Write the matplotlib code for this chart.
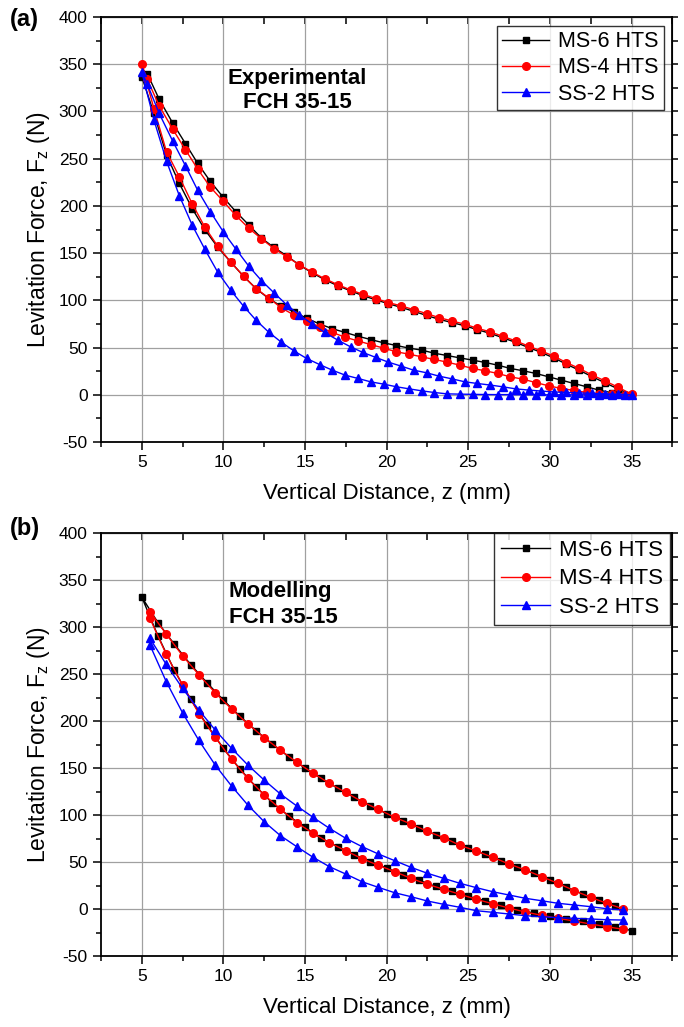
import matplotlib.pyplot as plt
from matplotlib.ticker import MultipleLocator

plt.rcParams["font.family"] = ["Liberation Sans", "DejaVu Sans"]
plt.rcParams["axes.unicode_minus"] = False

# ---- (a) experimental, approach branch (35 -> 5 mm) ----
z_exp_down = [35.0, 34.2, 33.4, 32.6, 31.8, 31.0, 30.25, 29.45, 28.7, 27.9,
              27.1, 26.35, 25.55, 24.8, 24.0, 23.2, 22.45, 21.65, 20.9, 20.1,
              19.35, 18.55, 17.8, 17.0, 16.2, 15.45, 14.65, 13.9, 13.1, 12.33,
              11.55, 10.76, 10.0, 9.2, 8.43, 7.68, 6.89, 6.07, 5.34, 5.0]
# return branch (5 -> 35 mm)
z_exp_up = [5.75, 6.52, 7.3, 8.1, 8.87, 9.65, 10.45, 11.24, 12.0, 12.78,
            13.55, 14.35, 15.1, 15.9, 16.67, 17.46, 18.25, 19.03, 19.82, 20.6,
            21.38, 22.15, 22.93, 23.7, 24.48, 25.27, 26.04, 26.8, 27.58, 28.37,
            29.14, 29.93, 30.7, 31.47, 32.25, 33.0, 33.8, 34.6]

ms6_exp_down = [0, 6, 12.5, 19, 26, 32.5, 39, 45, 50, 55.5,
                60.5, 65, 69, 73, 76.5, 80, 84, 88.5, 92.5, 96.5,
                100.5, 105, 110, 115.5, 122, 129, 137.5, 147, 156, 166,
                180, 194, 209, 226, 245, 266, 288, 313, 340, 337]
ms6_exp_up = [298, 254, 224, 197, 174.8, 156.4, 140.6, 125.5, 112.5, 101.9,
              93.8, 87.8, 81, 75, 70, 66, 62, 58.5, 55, 52.2,
              49.4, 47.3, 44, 41.6, 39.1, 36.7, 34.2, 31.4, 27.9, 25.4,
              22.6, 19, 15.5, 12, 8.5, 5, 2.1, 0]

ms4_exp_down = [0.7, 7.8, 14.5, 20.8, 27.9, 34.2, 40.9, 46.5, 51.5, 57.1,
                62, 66.6, 70.5, 74.7, 78.2, 81.8, 86, 90.2, 94.1, 97.7,
                101.9, 106.4, 111, 116.7, 123, 129.7, 137.8, 146, 154.8, 165.3,
                176.5, 190, 204.8, 220, 239, 259.4, 281.6, 306, 334, 350]
ms4_exp_up = [303, 257.4, 231, 202, 177.5, 157.5, 140.6, 125.5, 112.5, 102.6,
              92, 84.3, 78, 72, 66, 61, 57, 53.2, 49.4, 45.5,
              43, 40.2, 37.4, 34.6, 31.4, 27.9, 25.4, 22.6, 19, 16.5,
              12.9, 9.5, 6.7, 4.6, 2.5, 0.7, 0.5, 0]

ss2_exp_down = [0, 0.5, 1, 1.5, 2, 2.5, 3, 4, 5, 6.3,
                8.5, 10.3, 12, 13.7, 16.9, 19.8, 23.3, 26.1, 30.3, 34.6,
                39.5, 44.8, 50.7, 58, 66, 75, 84.5, 95, 108, 121,
                136.4, 154.5, 172.5, 194, 216.5, 242.5, 269, 298, 329, 342]
ss2_exp_up = [291, 247.4, 211, 179.4, 154, 130, 110.7, 93.8, 79, 66.3,
              55.7, 46.2, 38.5, 32, 26.1, 20.8, 17.3, 13.7, 11.3, 8.5,
              6.3, 4.2, 2.4, 1, 0.7, 0.5, 0.3, 0.2, 0.2, 0.1,
              0, 0, 0, 0, 0, 0, 0, 0]

# ---- (b) modelling ----
z_int_down = [34, 33, 32, 31, 30, 29, 28, 27, 26, 25, 24, 23, 22, 21, 20,
              19, 18, 17, 16, 15, 14, 13, 12, 11, 10, 9, 8, 7, 6, 5]
z_int_up = [6, 7, 8, 9, 10, 11, 12, 13, 14, 15, 16, 17, 18, 19, 20,
            21, 22, 23, 24, 25, 26, 27, 28, 29, 30, 31, 32, 33, 34, 35]
z_half_down = [34.5, 33.5, 32.5, 31.5, 30.5, 29.5, 28.5, 27.5, 26.5, 25.5,
               24.5, 23.5, 22.5, 21.5, 20.5, 19.5, 18.5, 17.5, 16.5, 15.5,
               14.5, 13.5, 12.5, 11.5, 10.5, 9.5, 8.5, 7.5, 6.5, 5.5]
z_half_up = [5.5, 6.5, 7.5, 8.5, 9.5, 10.5, 11.5, 12.5, 13.5, 14.5,
             15.5, 16.5, 17.5, 18.5, 19.5, 20.5, 21.5, 22.5, 23.5, 24.5,
             25.5, 26.5, 27.5, 28.5, 29.5, 30.5, 31.5, 32.5, 33.5, 34.5]

ms6_mod_down = [3, 9.5, 16, 23.5, 31, 38, 44.5, 51.5, 58.5, 64.5,
                72, 79, 86.5, 94, 101.5, 110, 119, 128.5, 139, 150,
                162, 175.5, 189.7, 205.3, 222.3, 240.7, 260, 281.6, 304.6, 332]
ms6_mod_up = [290.4, 254, 223, 195.7, 171, 149.3, 130, 113, 99, 87,
              75.2, 66.4, 58, 50.5, 43.6, 36.5, 30.5, 24, 18.8, 13.5,
              8.9, 3.9, -0.5, -4.3, -7.1, -10.6, -13.1, -15.6, -19.1, -22.9]

ms4_mod_down = [0, 6, 12.4, 19.5, 27.3, 34.4, 41.5, 47.9, 55, 61.7,
                67.7, 75.9, 82.6, 90.4, 97.5, 106, 114.2, 124, 133.7, 144.4,
                156, 169, 182.3, 197, 212.8, 230, 249.3, 269.5, 292.6, 316.3]
ms4_mod_up = [309.3, 271, 238.3, 208, 182.7, 159.3, 139, 121.3, 106.4, 91.8,
              80.5, 70.5, 62, 53.5, 46.5, 39.7, 32.6, 26.2, 21, 15.6,
              10.3, 5.6, 1, -3.2, -6.7, -9.9, -12.8, -16, -18.8, -21.6]

ss2_mod_down = [-1, 0.3, 2.5, 4.3, 6.1, 8.8, 11.4, 14.9, 18.4, 22.7,
                27.3, 32.6, 38, 44.3, 51.4, 58.5, 66.3, 75.2, 85.8, 97.5,
                109.6, 122.3, 137.2, 153.2, 171, 190.4, 211.7, 234.8, 260.3, 288]
ss2_mod_up = [281, 242, 208.8, 179.4, 153.2, 130.9, 110.6, 92.9, 78, 66.3,
              55, 45, 37.2, 29, 23, 17.3, 13.1, 8.5, 5, 1.8,
              -1.8, -3.5, -5.3, -7.1, -8.2, -9.2, -9.9, -10.6, -11.4, -11.7]

labels = ["MS-6 HTS", "MS-4 HTS", "SS-2 HTS"]
colors = ["black", "red", "blue"]
markers = ["s", "o", "^"]
msizes = [4.5, 5.5, 6]


def style_axes(ax):
    ax.set_xlim(2.5, 37.5)
    ax.set_ylim(-50, 400)
    ax.xaxis.set_major_locator(MultipleLocator(5))
    ax.xaxis.set_minor_locator(MultipleLocator(2.5))
    ax.yaxis.set_major_locator(MultipleLocator(50))
    ax.yaxis.set_minor_locator(MultipleLocator(25))
    ax.grid(True, which="major", color="#a0a0a0", lw=0.9)
    ax.set_axisbelow(True)
    ax.tick_params(which="both", direction="out", labelsize=12.5, width=1.1)
    ax.tick_params(which="major", length=6)
    ax.tick_params(which="minor", length=3.5)
    for s in ax.spines.values():
        s.set_linewidth(1.3)
    top = ax.secondary_xaxis("top")
    top.xaxis.set_major_locator(MultipleLocator(5))
    top.xaxis.set_minor_locator(MultipleLocator(2.5))
    top.tick_params(which="both", direction="in", labeltop=False, width=1.1, length=5)
    right = ax.secondary_yaxis("right")
    right.yaxis.set_major_locator(MultipleLocator(50))
    right.yaxis.set_minor_locator(MultipleLocator(25))
    right.tick_params(which="both", direction="out", labelright=False, width=1.1, length=4)
    ax.set_xlabel("Vertical Distance, z (mm)", fontsize=16, labelpad=9)
    ax.set_ylabel("Levitation Force, F$_\\mathregular{z}$ (N)", fontsize=16.5, labelpad=5)


fig = plt.figure(figsize=(6.84, 10.27), dpi=100)
ax1 = fig.add_axes([0.1475, 0.5696, 0.8355, 0.4138])
ax2 = fig.add_axes([0.1475, 0.0691, 0.8355, 0.4119])

exp_sets = [(ms6_exp_down, ms6_exp_up), (ms4_exp_down, ms4_exp_up), (ss2_exp_down, ss2_exp_up)]
for (d, u), lab, c, m, ms in zip(exp_sets, labels, colors, markers, msizes):
    ax1.plot(z_exp_down + z_exp_up, d + u, color=c, marker=m, ms=ms, lw=1.0, label=lab)

mod_sets = [(z_int_down, ms6_mod_down, z_int_up, ms6_mod_up),
            (z_half_down, ms4_mod_down, z_half_up, ms4_mod_up),
            (z_half_down, ss2_mod_down, z_half_up, ss2_mod_up)]
for (zd, d, zu, u), lab, c, m, ms in zip(mod_sets, labels, colors, markers, msizes):
    ax2.plot(zd + zu, d + u, color=c, marker=m, ms=ms, lw=1.0, label=lab)

style_axes(ax1)
style_axes(ax2)

leg1 = ax1.legend(loc="upper right", fontsize=15.5, frameon=True, fancybox=False,
                  edgecolor="black", handlelength=2.2, borderpad=0.25,
                  labelspacing=0.25, handletextpad=0.4, borderaxespad=0.4)
leg1.get_frame().set_linewidth(1.0)
leg2 = ax2.legend(loc="upper right", bbox_to_anchor=(0.995, 1.0), fontsize=16,
                  frameon=True, fancybox=False, edgecolor="black", handlelength=2.2,
                  borderpad=0.3, labelspacing=0.35, handletextpad=0.4, borderaxespad=0.0)
leg2.get_frame().set_linewidth(1.0)

ax1.text(0.343, 0.828, "Experimental\nFCH 35-15", transform=ax1.transAxes,
         fontsize=16, fontweight="bold", ha="center", va="center", linespacing=1.2)
ax2.text(0.224, 0.831, "Modelling\nFCH 35-15", transform=ax2.transAxes,
         fontsize=16, fontweight="bold", ha="left", va="center", linespacing=1.3)

fig.text(0.014, 0.981, "(a)", fontsize=17, fontweight="bold", va="center")
fig.text(0.014, 0.485, "(b)", fontsize=17, fontweight="bold", va="center")

fig.savefig("out.png", dpi=100)
